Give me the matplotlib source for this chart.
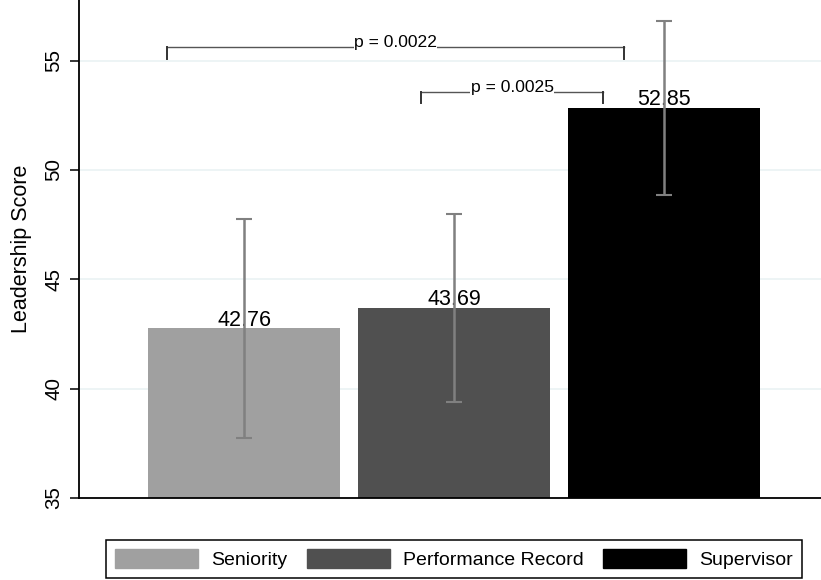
import matplotlib
matplotlib.use("Agg")
import matplotlib.pyplot as plt
import numpy as np

plt.rcParams['font.family'] = ['Liberation Sans', 'DejaVu Sans']

# ---- data ----
categories = ["Seniority", "Performance Record", "Supervisor"]
means = [42.76, 43.69, 52.85]
ci_low = [37.75, 39.37, 48.87]
ci_high = [47.76, 48.00, 56.81]
bar_colors = ["#a0a0a0", "#505050", "#000000"]
yticks = [35, 40, 45, 50, 55]
ylabel = "Leadership Score"

# significance brackets
brk_x_left = [-0.37, 0.84]
brk_x_right = [1.81, 1.71]
brk_y = [55.64, 53.56]
brk_foot = [55.05, 53.05]
brk_labels = ["p = 0.0022", "p = 0.0025"]

fig = plt.figure(figsize=(8.21, 5.80), dpi=100)
ax = fig.add_axes([79/821, 82/580, 1 - 79/821, 498/580])

x = np.arange(len(categories))
ax.bar(x, means, width=0.914, color=bar_colors, zorder=2)

# value labels
for xi, m in zip(x, means):
    ax.annotate(f"{m:.2f}", (xi, m), xytext=(0, 2), textcoords="offset points",
                ha="center", va="baseline", fontsize=15.5, color="black", zorder=3)

# error bars
yerr = [np.array(means) - np.array(ci_low), np.array(ci_high) - np.array(means)]
ax.errorbar(x, means, yerr=yerr, fmt="none", ecolor="#808080", elinewidth=1.8,
            capsize=5.5, capthick=1.5, zorder=4)

# brackets
for xl, xr, yl, yf, lab in zip(brk_x_left, brk_x_right, brk_y, brk_foot, brk_labels):
    ax.plot([xl, xr], [yl, yl], color="#555555", lw=1.0, zorder=5, clip_on=False)
    ax.plot([xl, xl], [yl, yf], color="#333333", lw=1.4, zorder=5)
    ax.plot([xr, xr], [yl, yf], color="#333333", lw=1.4, zorder=5)
    ax.text((xl + xr) / 2, yl, lab, ha="center", va="baseline", fontsize=12.6,
            color="black", zorder=6,
            bbox=dict(facecolor="white", edgecolor="none", pad=0.1))

ax.set_xlim(-0.787, 2.746)
ax.set_ylim(35, 57.77)
ax.set_yticks(yticks)
ax.set_yticklabels([str(t) for t in yticks], rotation=90, va="center", fontsize=14.8)
ax.set_xticks([])
ax.set_ylabel(ylabel, fontsize=15.5, labelpad=9)

ax.grid(axis="y", color="#eaf2f3", lw=1.2, zorder=0)
ax.set_axisbelow(True)
for s in ["top", "right"]:
    ax.spines[s].set_visible(False)
ax.spines["left"].set_linewidth(1.3)
ax.spines["bottom"].set_linewidth(1.3)
ax.tick_params(axis="y", length=6.5, width=1.1, pad=5)

handles = [plt.Rectangle((0, 0), 1, 1, color=c) for c in bar_colors]
leg = fig.legend(handles, categories, loc="center", bbox_to_anchor=(454/821, 21/580),
                 ncol=3, fontsize=14, frameon=True, fancybox=False, framealpha=1,
                 edgecolor="black", handlelength=4.27, handleheight=1.08,
                 handletextpad=0.68, columnspacing=1.0, borderpad=0.45)
leg.get_frame().set_linewidth(1.1)

fig.savefig("out.png", dpi=100)
